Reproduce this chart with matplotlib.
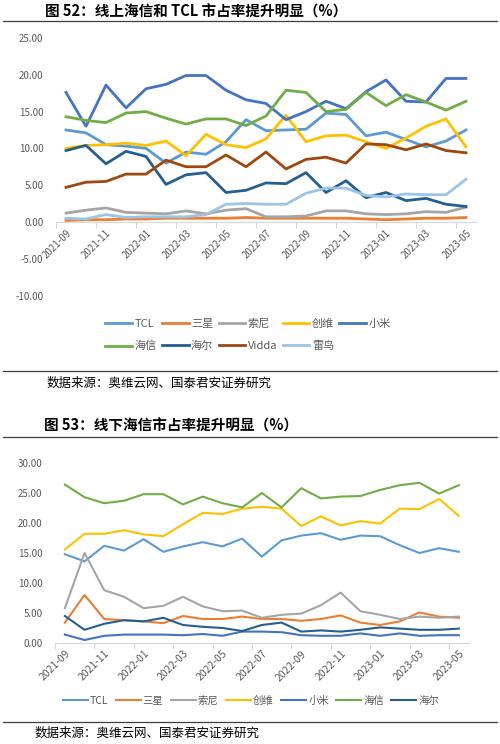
import matplotlib
matplotlib.use("Agg")
import matplotlib.pyplot as plt
from matplotlib.lines import Line2D
from matplotlib.ticker import FixedLocator

plt.rcParams['font.family'] = ['Noto Sans CJK SC', 'DejaVu Sans']

months = ["2021-09", "2021-10", "2021-11", "2021-12", "2022-01", "2022-02", "2022-03",
          "2022-04", "2022-05", "2022-06", "2022-07", "2022-08", "2022-09", "2022-10",
          "2022-11", "2022-12", "2023-01", "2023-02", "2023-03", "2023-04", "2023-05"]

# ---- Figure 52: online market share ----
on_tcl = [12.5, 12.1, 10.5, 10.3, 10.0, 8.0, 9.5, 9.2, 10.9, 13.9, 12.4, 12.5, 12.6, 14.8,
          14.6, 11.7, 12.2, 11.2, 10.2, 11.0, 12.5]
on_samsung = [0.2, 0.3, 0.3, 0.4, 0.4, 0.5, 0.5, 0.5, 0.5, 0.6, 0.5, 0.5, 0.5, 0.5, 0.5,
              0.4, 0.3, 0.4, 0.5, 0.5, 0.6]
on_sony = [1.2, 1.6, 1.9, 1.3, 1.2, 1.1, 1.5, 1.1, 1.6, 1.8, 0.7, 0.7, 0.8, 1.5, 1.5, 1.1,
           1.0, 1.1, 1.4, 1.3, 2.0]
on_skyworth = [10.0, 10.4, 10.5, 10.7, 10.4, 11.0, 9.0, 11.9, 10.5, 10.1, 11.3, 14.5, 10.9,
               11.7, 11.8, 10.9, 10.0, 11.4, 13.0, 14.0, 10.2]
on_xiaomi = [17.6, 13.0, 18.6, 15.5, 18.1, 18.7, 19.9, 19.9, 17.9, 16.6, 16.1, 13.9, 15.0,
             16.4, 15.4, 17.7, 19.3, 16.4, 16.3, 19.5, 19.5]
on_hisense = [14.3, 13.8, 13.5, 14.8, 15.0, 14.1, 13.3, 14.0, 14.0, 13.1, 14.4, 17.9, 17.6,
              15.0, 15.3, 17.6, 15.8, 17.3, 16.3, 15.2, 16.4]
on_haier = [9.7, 10.4, 7.9, 9.6, 8.9, 5.1, 6.4, 6.7, 4.0, 4.3, 5.3, 5.2, 6.7, 4.0, 5.6, 3.3,
            4.0, 2.9, 3.2, 2.4, 2.1]
on_vidda = [4.7, 5.4, 5.5, 6.5, 6.5, 8.4, 7.5, 7.5, 9.1, 7.5, 9.5, 7.2, 8.5, 8.8, 8.0, 10.6,
            10.5, 9.8, 10.6, 9.7, 9.4]
on_leiniao = [0.5, 0.4, 1.0, 0.6, 0.7, 0.7, 0.7, 1.0, 2.4, 2.5, 2.4, 2.4, 3.9, 4.6, 4.6,
              3.6, 3.4, 3.8, 3.7, 3.7, 5.8]

# ---- Figure 53: offline market share ----
off_tcl = [14.8, 13.6, 16.2, 15.4, 17.3, 15.2, 16.1, 16.8, 16.1, 17.4, 14.4, 17.1, 17.9,
           18.3, 17.2, 17.9, 17.8, 16.3, 15.0, 15.8, 15.2]
off_samsung = [3.4, 8.0, 4.0, 3.8, 3.6, 3.3, 4.5, 4.0, 4.0, 4.4, 4.0, 4.0, 3.7, 4.0, 4.6,
               3.4, 3.0, 3.6, 5.1, 4.4, 4.2]
off_sony = [5.8, 15.0, 8.8, 7.7, 5.8, 6.2, 7.7, 6.1, 5.3, 5.4, 4.2, 4.7, 4.9, 6.3, 8.4, 5.3,
            4.7, 4.0, 4.4, 4.2, 4.4]
off_skyworth = [15.6, 18.2, 18.2, 18.8, 18.1, 17.8, 19.8, 21.7, 21.5, 22.4, 22.7, 22.4,
                19.5, 21.1, 19.6, 20.3, 19.9, 22.4, 22.3, 24.0, 21.2]
off_xiaomi = [1.4, 0.5, 1.2, 1.4, 1.4, 1.4, 1.3, 1.5, 1.2, 1.9, 1.9, 1.8, 1.3, 1.2, 1.2,
              1.6, 1.2, 1.6, 1.2, 1.3, 1.3]
off_hisense = [26.4, 24.3, 23.3, 23.7, 24.8, 24.8, 23.1, 24.4, 23.3, 22.6, 25.0, 22.6, 25.8,
               24.1, 24.4, 24.5, 25.5, 26.3, 26.7, 24.9, 26.3]
off_haier = [4.5, 2.2, 3.2, 3.8, 3.6, 4.2, 3.0, 2.7, 2.5, 2.0, 3.0, 3.4, 1.9, 2.1, 1.9, 2.2,
             2.6, 2.4, 2.2, 2.2, 2.4]

top_names = ["TCL", "三星", "索尼", "创维", "小米", "海信", "海尔", "Vidda", "雷鸟"]
top_series = [on_tcl, on_samsung, on_sony, on_skyworth, on_xiaomi, on_hisense, on_haier,
              on_vidda, on_leiniao]
bot_names = ["TCL", "三星", "索尼", "创维", "小米", "海信", "海尔"]
bot_series = [off_tcl, off_samsung, off_sony, off_skyworth, off_xiaomi, off_hisense, off_haier]

colors = {"TCL": "#5B9BD5", "三星": "#ED7D31", "索尼": "#A5A5A5", "创维": "#FFC000",
          "小米": "#4472C4", "海信": "#70AD47", "海尔": "#255E91", "Vidda": "#9E480E",
          "雷鸟": "#9DC3E6"}

W, H = 500, 744
fig = plt.figure(figsize=(W / 100, H / 100), dpi=100)
fig.patch.set_facecolor("white")


def ax_rect(x0, x1, y_top, y_bot):
    return [x0 / W, 1 - y_bot / H, (x1 - x0) / W, (y_bot - y_top) / H]


def hline(y, x0=3, x1=497, color="#3F3F3F", lw=0.9):
    fig.add_artist(Line2D([x0 / W, x1 / W], [1 - y / H, 1 - y / H], color=color, lw=lw))


def style_axes(ax, n, ylo, yhi, ystep, xlab_size):
    ax.set_xlim(-0.5, n - 0.5)
    ax.set_ylim(ylo, yhi)
    for s in ["top", "right", "left"]:
        ax.spines[s].set_visible(False)
    ax.spines["bottom"].set_color("#D9D9D9")
    ax.spines["bottom"].set_linewidth(0.9)
    ticks = list(range(0, n, 2))
    ax.xaxis.set_major_locator(FixedLocator(ticks))
    ax.set_xticklabels([months[i] for i in ticks], rotation=45, ha="right",
                       rotation_mode="anchor", fontsize=xlab_size, color="#595959")
    ax.xaxis.set_minor_locator(FixedLocator([t - 0.5 for t in range(0, n + 1, 2)]))
    ax.tick_params(axis="x", which="major", length=0, pad=4)
    ax.tick_params(axis="x", which="minor", length=4, color="#D9D9D9", width=0.9)
    yt = list(range(ylo, yhi + 1, ystep))
    ax.set_yticks(yt)
    ax.set_yticklabels(["%.2f" % v for v in yt], fontsize=7, color="#595959")
    ax.tick_params(axis="y", length=0, pad=9)


# ---------------- Top chart ----------------
fig.text(45 / W, 1 - 12 / H, "图 52：线上海信和 TCL 市占率提升明显（%）", fontsize=10.5,
         fontweight="bold", va="center", ha="left", color="#000000")
hline(21)

ax1 = fig.add_axes(ax_rect(56, 476, 38, 295.5))
ax1.spines["bottom"].set_position(("data", 0))
x = list(range(len(months)))
lines1 = {}
for name, vals in zip(top_names, top_series):
    (ln,) = ax1.plot(x, vals, color=colors[name], lw=2.0, solid_joinstyle="round",
                     label=name)
    lines1[name] = ln
style_axes(ax1, len(months), -10, 25, 5, 7)

order1 = ["TCL", "海信", "三星", "海尔", "索尼", "Vidda", "创维", "雷鸟", "小米"]
leg1 = fig.legend([lines1[n] for n in order1], order1, loc="center",
                  bbox_to_anchor=(248 / W, 1 - 335 / H), ncol=5, frameon=False,
                  fontsize=8, handlelength=2.4, handletextpad=0.2, columnspacing=0.5,
                  labelspacing=1.1)
for t in leg1.get_texts():
    t.set_color("#595959")

hline(371)
fig.text(47 / W, 1 - 383 / H, "数据来源：奥维云网、国泰君安证券研究", fontsize=9,
         va="center", ha="left", color="#000000")

# ---------------- Bottom chart ----------------
fig.text(44 / W, 1 - 426 / H, "图 53：线下海信市占率提升明显（%）", fontsize=10.5,
         fontweight="bold", va="center", ha="left", color="#000000")
hline(437)

ax2 = fig.add_axes(ax_rect(55, 468.7, 463, 643))
lines2 = {}
for name, vals in zip(bot_names, bot_series):
    (ln,) = ax2.plot(x, vals, color=colors[name], lw=1.5, solid_joinstyle="round",
                     label=name)
    lines2[name] = ln
style_axes(ax2, len(months), 0, 30, 5, 7.5)

leg2 = fig.legend([lines2[n] for n in bot_names], bot_names, loc="center",
                  bbox_to_anchor=(251 / W, 1 - 701 / H), ncol=7, frameon=False,
                  fontsize=7.5, handlelength=2.4, handletextpad=0.2, columnspacing=0.7)
for t in leg2.get_texts():
    t.set_color("#595959")

hline(722)
fig.text(35 / W, 1 - 733 / H, "数据来源：奥维云网、国泰君安证券研究", fontsize=9,
         va="center", ha="left", color="#000000")

fig.savefig("out.png", dpi=100, facecolor="white")
